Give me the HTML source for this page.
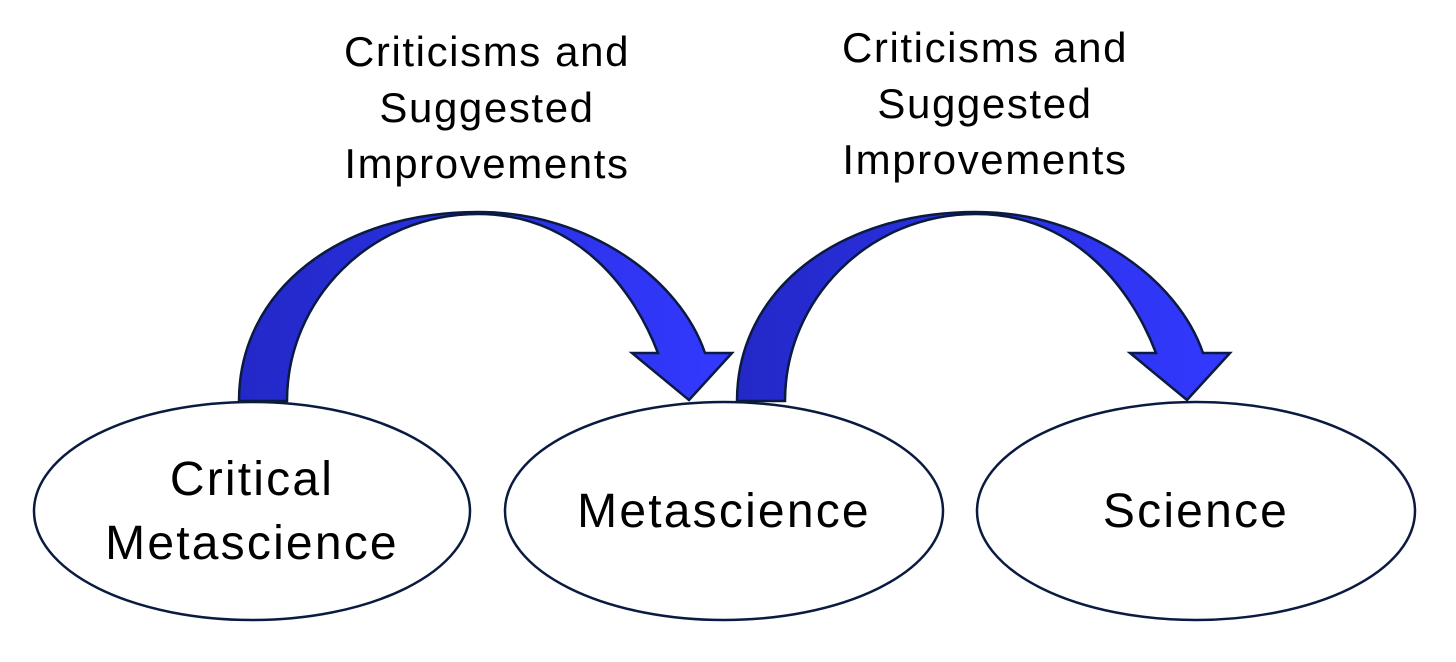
<!DOCTYPE html>
<html><head><style>body{margin:0;background:#fff}svg{display:block}</style></head><body>
<svg width="1456" height="662" viewBox="0 0 1456 662" xmlns="http://www.w3.org/2000/svg">
<defs><linearGradient id="g" x1="0" x2="1" y1="0" y2="0"><stop offset="0" stop-color="#2328c8"/><stop offset="0.45" stop-color="#2a30e0"/><stop offset="1" stop-color="#3339ff"/></linearGradient></defs>
<g font-family="Liberation Sans, sans-serif" font-size="42" letter-spacing="1.6" fill="#000" text-anchor="middle">
<text x="487" y="66">Criticisms and</text><text x="487" y="122">Suggested</text><text x="487" y="178">Improvements</text>
<text x="985" y="62">Criticisms and</text><text x="985" y="118">Suggested</text><text x="985" y="174">Improvements</text>
</g>
<g id="a" fill="url(#g)" stroke="#0a1a40" stroke-width="2.5" stroke-linejoin="miter">
<path d="M239,401 C239,290 340,212 478,212 C590,212 680,280 705,353 L732,353 L689,400 L632,353 L658,353 C630,280 570,214 478,214 C370,214 287,300 287,401 Z"/>
</g>
<use href="#a" x="498"/>
<g fill="#fff" stroke="#0a1a40" stroke-width="2.5">
<ellipse cx="252" cy="511" rx="218" ry="109"/>
<ellipse cx="724" cy="511" rx="219" ry="109"/>
<ellipse cx="1196" cy="511" rx="219" ry="109"/>
</g>
<g font-family="Liberation Sans, sans-serif" font-size="48" letter-spacing="2.2" fill="#000" text-anchor="middle">
<text x="252" y="495">Critical</text><text x="252" y="559">Metascience</text>
<text x="724" y="527">Metascience</text>
<text x="1196" y="527">Science</text>
</g>
</svg>
</body></html>
